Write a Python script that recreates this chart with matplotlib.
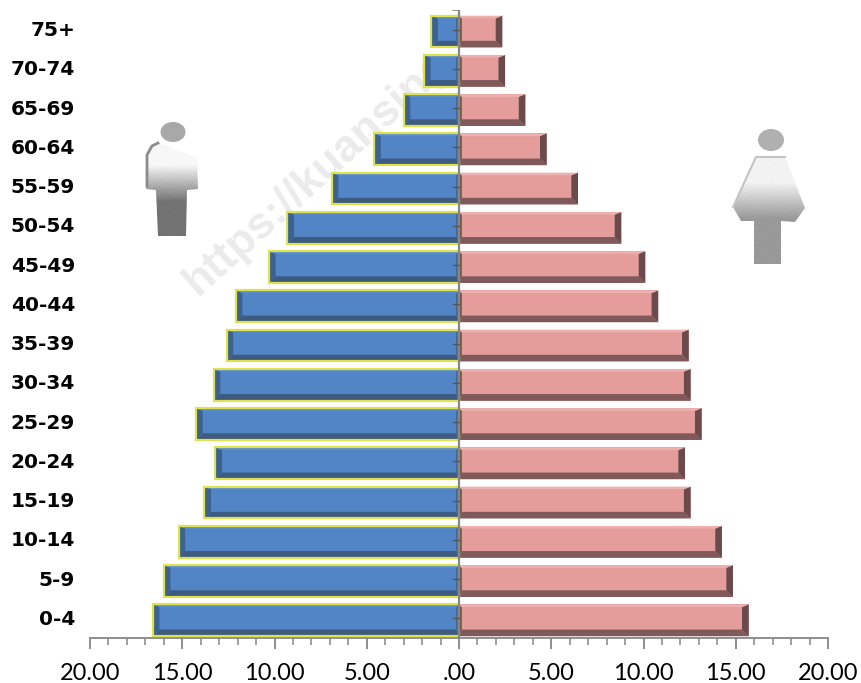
import numpy as np
import matplotlib
matplotlib.use('Agg')
import matplotlib.pyplot as plt
from matplotlib.patches import Polygon, Ellipse, PathPatch
from matplotlib.path import Path

# age groups, bottom to top
age_groups = ['0-4', '5-9', '10-14', '15-19', '20-24', '25-29', '30-34', '35-39',
              '40-44', '45-49', '50-54', '55-59', '60-64', '65-69', '70-74', '75+']
male = [16.6, 16.0, 15.2, 13.8, 13.2, 14.25, 13.3, 12.6,
        12.1, 10.3, 9.3, 6.9, 4.6, 3.0, 1.9, 1.5]
female = [15.7, 14.85, 14.25, 12.55, 12.25, 13.15, 12.55, 12.45,
          10.8, 10.1, 8.8, 6.45, 4.75, 3.6, 2.5, 2.35]
x_ticks = [-20, -15, -10, -5, 0, 5, 10, 15, 20]
x_labels = ['20.00', '15.00', '10.00', '5.00', '.00', '5.00', '10.00', '15.00', '20.00']

W, H = 861, 683
fig = plt.figure(figsize=(W / 100, H / 100), dpi=100)

# faint address running behind the bars
fig.text(198 / W, 1 - 296 / H, 'https://kuansing.', fontsize=32, fontweight='bold', family='Liberation Sans',
         color='#ebebeb', rotation=42, rotation_mode='anchor', ha='left', va='baseline', zorder=-1)

ax = fig.add_axes([90 / W, 1 - 638 / H, (828 - 90) / W, (638 - 10) / H])
ax.patch.set_alpha(0)
ax.set_xlim(-20, 20)
ax.set_ylim(-0.5, 15.5)
y = np.arange(len(age_groups))
bar_h = 0.81
bar_off = -0.05  # bars sit slightly below the centre of their band
bev_x = 0.36  # bevel width in x units
bev_y = 0.17  # bevel height in y units


def draw_bar(pos, val, side, face, dark, side_col, light, edge):
    s = side
    pos = pos + bar_off
    top = pos + bar_h / 2
    bot = pos - bar_h / 2
    ax.barh(pos, s * val, height=bar_h, color=face, linewidth=0, zorder=2)
    ex = s * val
    inner = ex - s * bev_x
    root = s * 0.15
    # bottom bevel
    ax.add_patch(Polygon([(0, bot), (ex, bot), (inner, bot + bev_y), (root, bot + bev_y)], color=dark, lw=0, zorder=3))
    # end bevel
    ax.add_patch(Polygon([(ex, bot), (ex, top), (inner, top - bev_y * 0.4), (inner, bot + bev_y)], color=side_col, lw=0, zorder=3))
    # root side bevel
    ax.add_patch(Polygon([(0, bot), (0, top), (root, top - bev_y * 0.4), (root, bot + bev_y)], color=side_col, lw=0, zorder=3))
    # thin lit strip on top
    ax.add_patch(Polygon([(0, top), (ex, top), (inner, top - bev_y * 0.4), (root, top - bev_y * 0.4)], color=light, lw=0, zorder=3))
    # outline over the bevels
    if edge is not None:
        ax.barh(pos, s * val, height=bar_h, color='none', edgecolor=edge, linewidth=1.6, zorder=4)


for i in y:
    draw_bar(i, male[i], -1, '#5285c6', '#3d5b80', '#3c6290', '#5a8fd0', '#dfe24f')
    draw_bar(i, female[i], 1, '#e59d9c', '#80595a', '#6a4a4b', '#ecb0af', None)

# axis lines and ticks
for sp in ['top', 'right', 'left']:
    ax.spines[sp].set_visible(False)
ax.spines['bottom'].set_color('#868686')
ax.spines['bottom'].set_linewidth(1.3)
ax.axvline(0, color='#868686', lw=1.6, zorder=5)
ax.set_xticks(x_ticks)
ax.set_xticklabels(x_labels, fontsize=17, family='Lato', color='black')
ax.set_xticks(np.arange(-20, 21, 1), minor=True)
ax.tick_params(axis='x', which='major', direction='out', length=8, width=1.3, color='#868686', pad=10)
ax.tick_params(axis='x', which='minor', direction='out', length=5, width=1.1, color='#868686')

# small ticks on the centre line
ax.set_yticks([])
for i in y:
    ax.plot([-0.35, 0], [i, i], color='#555555', lw=1, zorder=5)
ax.plot([-0.35, 0], [15.5, 15.5], color='#868686', lw=1.2, zorder=5)

# age labels sit left of the axes, right aligned
for i, name in zip(y, age_groups):
    ax.annotate(name, xy=(0, i), xycoords=('axes fraction', 'data'), xytext=(-15, -1),
                textcoords='offset pixels', ha='right', va='center',
                fontsize=14.5, fontweight='bold', family='DejaVu Sans', color='black')


def pixel_ax(x0, y0, x1, y1):
    a = fig.add_axes([x0 / W, 1 - y1 / H, (x1 - x0) / W, (y1 - y0) / H])
    a.set_xlim(x0, x1)
    a.set_ylim(y1, y0)
    a.axis('off')
    return a


def gradient_fill(a, patch, start, stop, low, high):
    # grey fade down the figure with a fine regular grain
    x0, x1 = a.get_xlim()
    y1, y0 = a.get_ylim()
    rows = int(y1 - y0)
    cols = int(x1 - x0)
    yy, xx = np.mgrid[0:rows, 0:cols]
    ramp = start + (stop - start) * np.clip((yy / rows - low) / (high - low), 0, 1)
    grain = 0.05 * np.sin(xx * 2.1 + yy * 0.7) * np.sin(yy * 1.9 - xx * 0.4)
    img = a.imshow(np.clip(ramp + grain, 0, 1), extent=(x0, x1, y1, y0), aspect='auto', cmap='gray', vmin=0, vmax=1,
                   origin='upper', interpolation='bilinear')
    a.add_patch(patch)
    img.set_clip_path(patch)


# man icon
man = pixel_ax(140, 118, 205, 240)
man_path = Path([(146, 150), (150, 145), (160, 143), (197, 158), (198, 189), (187, 190), (186, 236), (158, 236),
                 (156, 190), (146, 189), (146, 150)])
gradient_fill(man, PathPatch(man_path, facecolor='none', edgecolor='none'), 0.97, 0.45, 0.38, 0.68)
man.plot([147, 147, 152, 158], [186, 155, 146, 143], color='#8c8c8c', lw=2)
man.add_patch(Ellipse((173, 132), 25, 20, color='#a8a8a8', lw=0))

# woman icon
woman = pixel_ax(725, 125, 810, 268)
woman_path = Path([(756, 157), (785, 157), (805, 208), (795, 222), (781, 221), (781, 264), (754, 264), (754, 221),
                   (741, 221), (733, 207), (756, 157)])
gradient_fill(woman, PathPatch(woman_path, facecolor='none', edgecolor='none'), 0.95, 0.6, 0.4, 0.65)
woman.plot([733, 756, 785], [207, 157, 157], color='#c4c4c4', lw=1.5)
woman.add_patch(Ellipse((771, 140), 26, 22, color='#b0b0b0', lw=0))

fig.savefig('out.png', dpi=100)
